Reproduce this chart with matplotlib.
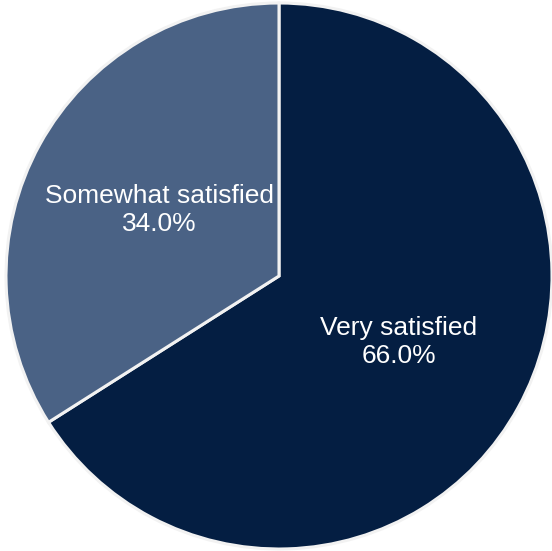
import matplotlib.pyplot as plt

# Satisfaction breakdown
labels = ['Very satisfied', 'Somewhat satisfied']
values = [66.0, 34.0]
colors = ['#041E42', '#4A6285']

plt.rcParams['font.family'] = ['Liberation Sans', 'DejaVu Sans']

fig = plt.figure(figsize=(5.52, 5.51), dpi=100)
ax = fig.add_axes([0, 0, 1, 1])

pie_labels = [f'{l}\n{v:.1f}%' for l, v in zip(labels, values)]
wedges, texts = ax.pie(values, labels=pie_labels, colors=colors,
                       startangle=90, counterclock=False,
                       center=(279, 551 - 276), radius=273,
                       labeldistance=0.5, frame=True,
                       wedgeprops=dict(edgecolor='#F2F2F2', linewidth=2.2),
                       textprops=dict(color='white', fontsize=19,
                                      ha='center', va='center',
                                      linespacing=1.2))
ax.set_xlim(0, 552)
ax.set_ylim(0, 551)
ax.set_aspect('equal')
ax.axis('off')

plt.savefig('out.png', dpi=100)
